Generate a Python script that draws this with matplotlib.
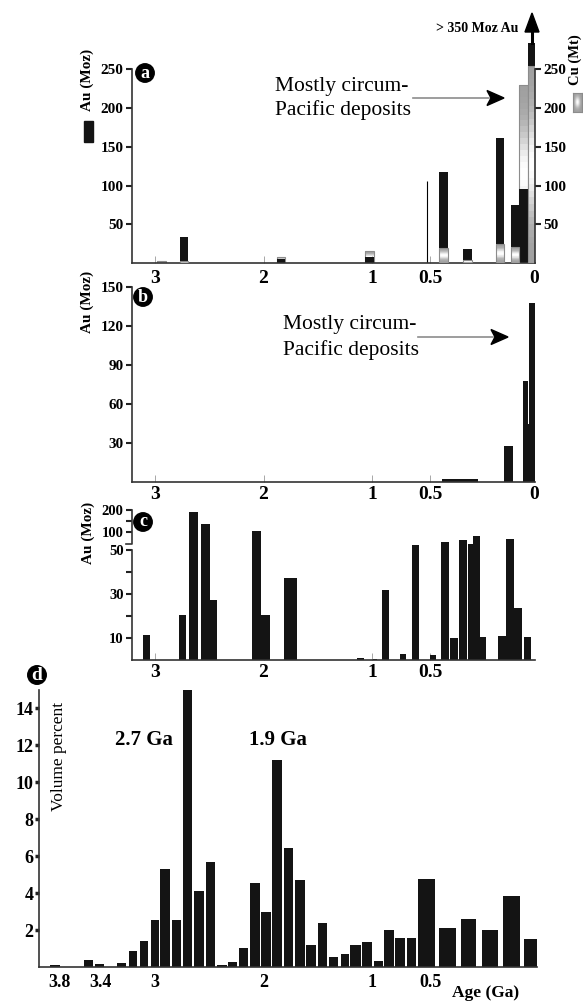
import numpy as np
import matplotlib.pyplot as plt
from matplotlib.patches import Rectangle, Polygon
from matplotlib.lines import Line2D
from matplotlib.transforms import blended_transform_factory

plt.rcParams['font.family'] = ['Liberation Serif', 'DejaVu Serif']

# ---------------- data ----------------
# (a) Au and Cu endowment of porphyry/epithermal deposits per age bin (Ga)
a_old = [2.98, 2.77, 1.88, 1.06, 0.455, 0.34, 0.184, 0.112, 0.071, 0.030]
a_young = [2.895, 2.70, 1.80, 0.985, 0.415, 0.30, 0.144, 0.071, 0.030, -0.008]
au_a = [0, 33, 5, 8, 117, 18, 161, 75, 96, 350]
cu_a = [2.5, 2.5, 8, 15, 20, 4, 25, 21, 230, 254]
a_line_age = 0.523
a_line_au = 106

# (b) Au (Moz)
b_old = [0.442, 0.144, 0.054, 0.0274, 0.0226]
b_young = [0.269, 0.103, 0.0274, 0.0226, -0.005]
au_b = [2, 28, 78, 45, 138]

# (c) Au (Moz), broken axis above 50
c_old = [3.09, 2.78, 2.69, 2.58, 2.49, 2.11, 2.02, 1.81, 1.14, 0.99,
         0.91, 0.76, 0.655, 0.499, 0.449, 0.404, 0.360, 0.315, 0.292, 0.258,
         0.172, 0.133, 0.097, 0.050]
c_young = [3.04, 2.71, 2.60, 2.49, 2.43, 2.02, 1.94, 1.69, 1.07, 0.955,
           0.854, 0.703, 0.595, 0.469, 0.410, 0.365, 0.322, 0.288, 0.258, 0.229,
           0.137, 0.097, 0.058, 0.016]
au_c = [11.4, 20.4, 193, 136, 27.2, 104, 20.4, 37.3, 0.8, 0.6,
        31.6, 2.5, 62, 2.1, 71.6, 9.9, 76.5, 65.4, 89, 10.6,
        10.9, 78.4, 23.4, 10.6]

# (d) volume percent of juvenile crust
d_old = [3.89, 3.56, 3.45, 3.28, 3.19, 3.11, 3.03, 2.95, 2.84, 2.74,
         2.64, 2.53, 2.43, 2.33, 2.23, 2.12, 2.02, 1.92, 1.81, 1.71,
         1.61, 1.50, 1.40, 1.29, 1.20, 1.09, 0.985, 0.896, 0.80, 0.697,
         0.60, 0.458, 0.351, 0.252, 0.150, 0.050]
d_young = [3.80, 3.47, 3.37, 3.21, 3.13, 3.05, 2.96, 2.86, 2.76, 2.655,
           2.55, 2.45, 2.34, 2.24, 2.14, 2.03, 1.93, 1.83, 1.725, 1.62,
           1.52, 1.415, 1.31, 1.21, 1.105, 1.00, 0.905, 0.81, 0.713, 0.617,
           0.476, 0.377, 0.279, 0.175, 0.068, -0.015]
d_vol = [0.13, 0.36, 0.18, 0.22, 0.88, 1.43, 2.53, 5.3, 2.53, 15.0,
         4.1, 5.67, 0.09, 0.25, 1.03, 4.55, 3.0, 11.23, 6.44, 4.73,
         1.21, 2.38, 0.52, 0.70, 1.19, 1.35, 0.34, 1.99, 1.59, 1.59,
         4.77, 2.11, 2.6, 2.02, 3.86, 1.52]

age_ticks_abc = [3, 2, 1, 0.5, 0]
age_ticks_d = [3.8, 3.4, 3, 2, 1, 0.5]

# ---------------- scales ----------------
# age axis is stretched below 0.5 Ga
AGE_K = np.array([-1.0, 0.0, 0.5, 1.0, 3.0, 3.4, 3.8, 5.0])
POS_K = np.array([-2.08, 0.0, 1.04, 1.62, 3.79, 4.34, 4.745, 5.957])


def age_fwd(a):
    return np.interp(a, AGE_K, POS_K)


def age_inv(p):
    return np.interp(p, POS_K, AGE_K)


# panel c: linear to 50 Moz, compressed above
CV_K = np.array([-100.0, 0, 50, 100, 150, 200, 400])
CP_K = np.array([-100.0, 0, 50, 58.1, 63.0, 67.9, 87.5])


def c_fwd(v):
    return np.interp(v, CV_K, CP_K)


def c_inv(p):
    return np.interp(p, CP_K, CV_K)


W, H = 583, 1002
BLACK = '#141414'


def fx(px):
    return px / W


def fy(py):
    return 1 - py / H


def box(l, r, top, bot):
    return [fx(l), fy(bot), (r - l) / W, (bot - top) / H]


def style_age_axis(ax, ticks, labels, size, pad, tick_len=5):
    ax.set_xscale('function', functions=(age_fwd, age_inv))
    ax.set_xticks(ticks)
    ax.set_xticklabels(labels)
    ax.tick_params(axis='x', direction='in', length=tick_len, width=0.6,
                   color='0.6', labelsize=size, pad=pad)
    for lab in ax.get_xticklabels():
        lab.set_fontweight('bold')
    ax.spines['top'].set_visible(False)
    ax.spines['right'].set_visible(False)
    for s in ('left', 'bottom'):
        ax.spines[s].set_color('#333333')
        ax.spines[s].set_linewidth(1.2)


def bold_y(ax, size, length=4, width=1.5, pad=2):
    ax.tick_params(axis='y', direction='out', length=length, width=width,
                   labelsize=size, pad=pad, color='#222222')
    for lab in ax.get_yticklabels():
        lab.set_fontweight('bold')


def cu_bars(ax, a0, a1, v, z):
    n = 30
    edges = np.linspace(0, v, n + 1)
    t = (np.arange(n) + 0.5) / n
    shade = 0.62 + 0.38 * np.exp(-((t - 0.5) / 0.24) ** 2)
    ax.bar([a0] * n, np.diff(edges), width=a1 - a0, bottom=edges[:-1],
           align='edge', color=[str(round(s, 3)) for s in shade],
           linewidth=0, zorder=z)
    ax.bar(a0, v, width=a1 - a0, align='edge', fill=False,
           edgecolor='0.55', linewidth=0.8, zorder=z)


def badge(px, py, letter, size=13):
    fig.text(fx(px), fy(py), letter, color='white', fontsize=size,
             fontweight='bold', ha='center', va='center',
             bbox=dict(boxstyle='circle,pad=0.04', fc='black', ec='black'))


def pointer(x0, x1, y, head=17, half=7.5):
    fig.add_artist(Line2D([fx(x0), fx(x1 - head + 2)], [fy(y), fy(y)],
                          color='0.55', lw=1.2, transform=fig.transFigure))
    fig.add_artist(Polygon([(fx(x1 - head), fy(y - half)), (fx(x1), fy(y)),
                            (fx(x1 - head), fy(y + half)),
                            (fx(x1 - head + 4), fy(y))],
                           closed=True, color='black', transform=fig.transFigure))


fig = plt.figure(figsize=(W / 100, H / 100), dpi=100)

xl_abc = (float(age_inv(4.02)), float(age_inv(-0.01)))

# ---------------- (a) ----------------
ax_a = fig.add_axes(box(132, 535, 43, 263))
style_age_axis(ax_a, age_ticks_abc, ['3', '2', '1', '0.5', '0'], 14, 5)
for o, y_, au, cu in zip(a_old, a_young, au_a, cu_a):
    if au > 0:
        ax_a.bar(o, au, width=y_ - o, align='edge', color=BLACK, linewidth=0, zorder=2)
    cu_bars(ax_a, o, y_, cu, 3 if cu < au else 1.5)
ax_a.vlines(a_line_age, 0, a_line_au, color='k', lw=0.8)
ax_a.set_xlim(*xl_abc)
ax_a.set_ylim(0, 284)
ax_a.set_yticks([50, 100, 150, 200, 250])
ax_a.spines['left'].set_bounds(0, 250)
bold_y(ax_a, 11)

ax_cu = ax_a.twinx()
ax_cu.set_ylim(0, 284)
ax_cu.set_yticks([50, 100, 150, 200, 250])
for s in ('left', 'top', 'bottom'):
    ax_cu.spines[s].set_visible(False)
ax_cu.spines['right'].set_bounds(0, 250)
ax_cu.spines['right'].set_color('#333333')
ax_cu.spines['right'].set_linewidth(1.2)
bold_y(ax_cu, 11)

fig.text(fx(87), fy(80), 'Au (Moz)', rotation=90, ha='center', va='center',
         fontsize=11, fontweight='bold')
fig.add_artist(Rectangle((fx(84), fy(142)), 9 / W, 21 / H, color=BLACK,
                         transform=fig.transFigure))
fig.text(fx(575), fy(60), 'Cu (Mt)', rotation=90, ha='center', va='center',
         fontsize=10.5, fontweight='bold')
sw = fig.add_axes(box(573, 582, 93, 112))
gx = np.exp(-((np.linspace(-1, 1, 20) / 0.55) ** 2))
sw.imshow(0.62 + 0.38 * np.outer(gx, gx), cmap='gray', vmin=0, vmax=1,
          aspect='auto', interpolation='bilinear')
sw.set_xticks([])
sw.set_yticks([])
for s in sw.spines.values():
    s.set_color('0.55')

fig.text(fx(275), fy(87), 'Mostly circum-', fontsize=15.5, va='center')
fig.text(fx(275), fy(110), 'Pacific deposits', fontsize=15.5, va='center')
pointer(413, 504, 98)

fig.text(fx(518), fy(28), '> 350 Moz Au', ha='right', va='center',
         fontsize=10, fontweight='bold')
fig.add_artist(Line2D([fx(532), fx(532)], [fy(43), fy(30)], color='black',
                      lw=2.2, transform=fig.transFigure))
fig.add_artist(Polygon([(fx(525), fy(32)), (fx(532), fy(13)), (fx(539), fy(32))],
                       closed=True, color='black', transform=fig.transFigure))
badge(145, 73, 'a')

# ---------------- (b) ----------------
ax_b = fig.add_axes(box(132, 535, 287, 482))
style_age_axis(ax_b, age_ticks_abc, ['3', '2', '1', '0.5', '0'], 14, 3)
ax_b.bar(b_old, au_b, width=np.subtract(b_young, b_old), align='edge',
         color=BLACK, linewidth=0, zorder=2)
ax_b.set_xlim(*xl_abc)
ax_b.set_ylim(0, 150)
ax_b.set_yticks([30, 60, 90, 120, 150])
bold_y(ax_b, 11)
fig.text(fx(87), fy(302), 'Au (Moz)', rotation=90, ha='center', va='center',
         fontsize=11, fontweight='bold')
fig.text(fx(283), fy(325), 'Mostly circum-', fontsize=15.5, va='center')
fig.text(fx(283), fy(350), 'Pacific deposits', fontsize=15.5, va='center')
pointer(418, 508, 337)
badge(143, 297, 'b')

# ---------------- (c) ----------------
ax_c = fig.add_axes(box(132, 535, 510, 660))
style_age_axis(ax_c, age_ticks_abc[:-1], ['3', '2', '1', '0.5'], 14, 3)
ax_c.set_yscale('function', functions=(c_fwd, c_inv))
ax_c.bar(c_old, au_c, width=np.subtract(c_young, c_old), align='edge',
         color=BLACK, linewidth=0, zorder=2)
ax_c.set_xlim(*xl_abc)
ax_c.set_ylim(0, 200)
ax_c.set_yticks([10, 20, 30, 40, 50, 100, 150, 200])
ax_c.set_yticklabels(['10', '', '30', '', '50', '100', '', '200'])
ax_c.yaxis.set_minor_locator(plt.NullLocator())
ax_c.spines['left'].set_bounds(0, 50)
bold_y(ax_c, 10.5)
bt = blended_transform_factory(ax_c.transAxes, ax_c.transData)
ax_c.plot([-0.014, 0, 0], [66, 66, 200], color='#333333', lw=1.2,
          transform=bt, clip_on=False)
fig.text(fx(88), fy(533), 'Au (Moz)', rotation=90, ha='center', va='center',
         fontsize=11, fontweight='bold')
badge(143, 522, 'c')

# ---------------- (d) ----------------
ax_d = fig.add_axes(box(39, 537, 690, 967))
style_age_axis(ax_d, age_ticks_d, ['3.8', '3.4', '3', '2', '1', '0.5'], 13, 5,
               tick_len=0)
ax_d.bar(d_old, d_vol, width=np.subtract(d_young, d_old), align='edge',
         color=BLACK, linewidth=0, zorder=2)
ax_d.set_xlim(float(age_inv(4.95)), float(age_inv(-0.03)))
ax_d.set_ylim(0, 15)
ax_d.set_yticks([2, 4, 6, 8, 10, 12, 14])
bold_y(ax_d, 13, length=3, width=2.5, pad=1)
fig.text(fx(59), fy(756), 'Volume percent', rotation=90, ha='center',
         va='center', fontsize=12.5)
fig.text(fx(144), fy(740), '2.7 Ga', ha='center', va='center', fontsize=15,
         fontweight='bold')
fig.text(fx(278), fy(740), '1.9 Ga', ha='center', va='center', fontsize=15,
         fontweight='bold')
fig.text(fx(486), fy(993), 'Age (Ga)', ha='center', va='center',
         fontsize=12.5, fontweight='bold')
badge(37, 675, 'd', size=14)

fig.savefig('out.png', dpi=100)
